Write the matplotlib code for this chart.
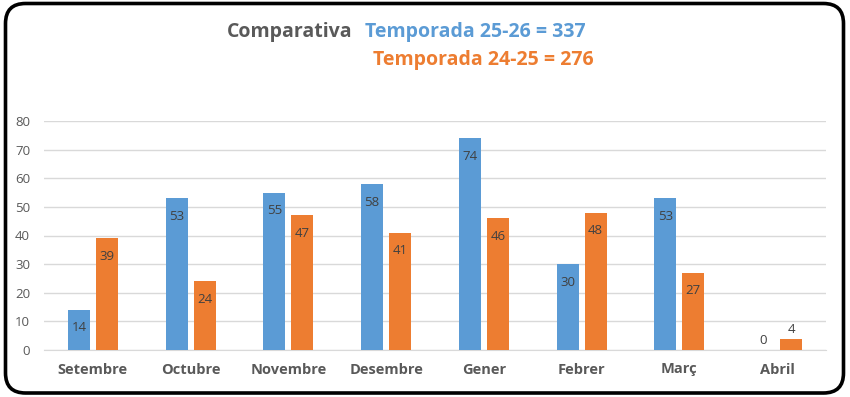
import matplotlib
matplotlib.use("Agg")
import matplotlib.pyplot as plt
from matplotlib.patches import FancyBboxPatch
import numpy as np

months = ["Setembre", "Octubre", "Novembre", "Desembre", "Gener", "Febrer", "Març", "Abril"]
season_25_26 = [14, 53, 55, 58, 74, 30, 53, 0]
season_24_25 = [39, 24, 47, 41, 46, 48, 27, 4]
yticks = [0, 10, 20, 30, 40, 50, 60, 70, 80]

plt.rcParams['font.family'] = ['Open Sans', 'DejaVu Sans']
blue = "#5B9BD5"
orange = "#ED7D31"
grey = "#595959"

fig = plt.figure(figsize=(8.5, 3.97), dpi=100)
W, H = 850, 397
ax = fig.add_axes([44 / W, 1 - 350 / H, (826 - 44) / W, (350 - 121) / H])

x = np.arange(len(months))
bw = 0.225
off = 0.143
b1 = ax.bar(x - off, season_25_26, bw, color=blue, zorder=3)
b2 = ax.bar(x + off, season_24_25, bw, color=orange, zorder=3)

for bars, vals in ((b1, season_25_26), (b2, season_24_25)):
    for rect, v in zip(bars, vals):
        cx = rect.get_x() + rect.get_width() / 2
        if v < 8:
            ax.annotate(str(v), (cx, v), xytext=(0, 2), textcoords="offset points",
                        ha="center", va="bottom", fontsize=9.5, color="#404040")
        else:
            ax.annotate(str(v), (cx, v), xytext=(0, -13), textcoords="offset points",
                        ha="center", va="center", fontsize=9.5, color="#404040")

ax.set_xlim(-0.5, len(months) - 0.5)
ax.set_ylim(0, 80)
ax.set_yticks(yticks)
ax.set_xticks(x)
ax.set_xticklabels(months, fontweight="bold", fontsize=10.5, color=grey)
ax.tick_params(axis="y", labelsize=9.5, labelcolor=grey, length=0, pad=10)
ax.tick_params(axis="x", length=0, pad=9)
ax.grid(axis="y", color="#D9D9D9", linewidth=1, zorder=0)
for s in ["top", "right", "left"]:
    ax.spines[s].set_visible(False)
ax.spines["bottom"].set_color("#D9D9D9")

fig.text(352 / W, 1 - 32 / H, "Comparativa", ha="right", va="center",
         fontsize=14, fontweight="bold", color=grey)
fig.text(365 / W, 1 - 32 / H, "Temporada 25-26 = 337", ha="left", va="center",
         fontsize=14, fontweight="bold", color=blue)
fig.text(373 / W, 1 - 60 / H, "Temporada 24-25 = 276", ha="left", va="center",
         fontsize=14, fontweight="bold", color=orange)

# border in a pixel-coordinate overlay axes
bax = fig.add_axes([0, 0, 1, 1], zorder=10)
bax.set_xlim(0, W)
bax.set_ylim(H, 0)
bax.axis("off")
bax.patch.set_alpha(0)
border = FancyBboxPatch((5.5, 3.5), 838, 389.5,
                        boxstyle="round,pad=0,rounding_size=20",
                        facecolor="none", edgecolor="#000000", linewidth=2.6)
bax.add_patch(border)

fig.savefig("out.png", dpi=100)
